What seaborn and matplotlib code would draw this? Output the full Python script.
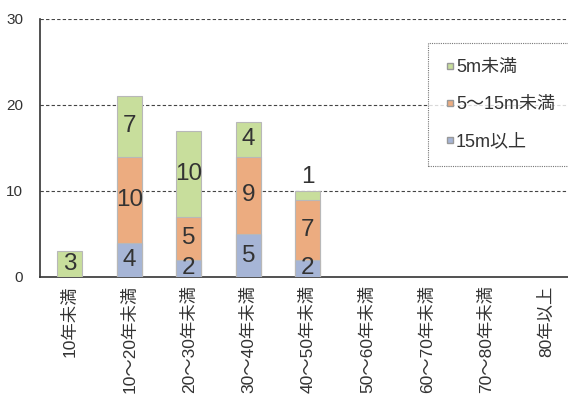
import matplotlib
matplotlib.use("Agg")
import matplotlib.pyplot as plt
import numpy as np
import pandas as pd
import seaborn as sns
from matplotlib.lines import Line2D

categories = ["10年未満", "10～20年未満", "20～30年未満", "30～40年未満", "40～50年未満",
              "50～60年未満", "60～70年未満", "70～80年未満", "80年以上"]
over_15m = [0, 4, 2, 5, 2, 0, 0, 0, 0]
mid_5_15m = [0, 10, 5, 9, 7, 0, 0, 0, 0]
under_5m = [3, 7, 10, 4, 1, 0, 0, 0, 0]
series_names = ["15m以上", "5～15m未満", "5m未満"]
colors = {"15m以上": "#a6b5d6", "5～15m未満": "#ecac80", "5m未満": "#c8de9c"}

sns.set_style("white")
plt.rcParams["font.family"] = ["Liberation Sans", "Noto Sans CJK JP", "DejaVu Sans"]

df = pd.DataFrame({"cat": categories, "15m以上": over_15m,
                   "5～15m未満": mid_5_15m, "5m未満": under_5m})
df["c1"] = df["15m以上"]
df["c2"] = df["c1"] + df["5～15m未満"]
df["c3"] = df["c2"] + df["5m未満"]

fig = plt.figure(figsize=(5.68, 4.0), dpi=100)
ax = fig.add_axes([0.0704, 0.3075, 0.943, 0.645])

# stacked by overlaying cumulative totals
for col, name in [("c3", "5m未満"), ("c2", "5～15m未満"), ("c1", "15m以上")]:
    sns.barplot(data=df, x="cat", y=col, color=colors[name], width=0.42,
                edgecolor="#b8b8b8", linewidth=0.8, ax=ax, zorder=3, saturation=1)

# hide outlines of empty bars
for p in ax.patches:
    if p.get_height() == 0:
        p.set_linewidth(0)

# value labels
for i in range(len(categories)):
    bottom = 0
    for name in series_names:
        v = df[name][i]
        if v > 0:
            y = bottom + v / 2 if v >= 2 else bottom + v + 1.6
            ax.text(i, y, str(v), ha="center", va="center", fontsize=17.5,
                    color="#333333", zorder=5)
        bottom += v

ax.set_ylim(0, 30)
ax.set_xlim(-0.5, len(categories) - 0.5)
ax.set_yticks([0, 10, 20, 30])
ax.set_xlabel("")
ax.set_ylabel("")
for y in [10, 20, 30]:
    ax.axhline(y, color="#444444", linestyle=(0, (3, 2)), linewidth=0.8, zorder=1)

ax.spines["top"].set_visible(False)
ax.spines["right"].set_visible(False)
ax.spines["left"].set_color("#333333")
ax.spines["bottom"].set_color("#333333")
ax.spines["left"].set_linewidth(1.2)
ax.spines["bottom"].set_linewidth(1.2)

ax.tick_params(axis="y", direction="in", length=4, pad=12, labelsize=11, colors="#333333")
ax.tick_params(axis="x", length=0, pad=6, labelsize=12.5, labelcolor="#333333")
ax.set_xticks(range(len(categories)))
ax.set_xticklabels(categories, rotation=90, va="top")
ax.set_xticks(np.arange(0.5, len(categories) - 0.5), minor=True)
ax.tick_params(axis="x", which="minor", direction="in", length=4, color="#333333")

handles = [Line2D([0], [0], marker="s", linestyle="", markersize=5,
                  markerfacecolor=colors[n], markeredgecolor="#999999")
           for n in ["5m未満", "5～15m未満", "15m以上"]]
leg = ax.legend(handles, ["5m未満", "5～15m未満", "15m以上"], loc="upper left",
                bbox_to_anchor=(0.7245, 0.907), fontsize=13, labelspacing=1.1,
                handletextpad=0.05, handlelength=0.6, borderpad=0.9,
                frameon=True, fancybox=False, borderaxespad=0)
leg.get_frame().set_edgecolor("#555555")
leg.get_frame().set_linestyle((0, (1, 1)))
leg.get_frame().set_linewidth(0.8)
for t in leg.get_texts():
    t.set_color("#333333")

fig.savefig("out.png", dpi=100)
